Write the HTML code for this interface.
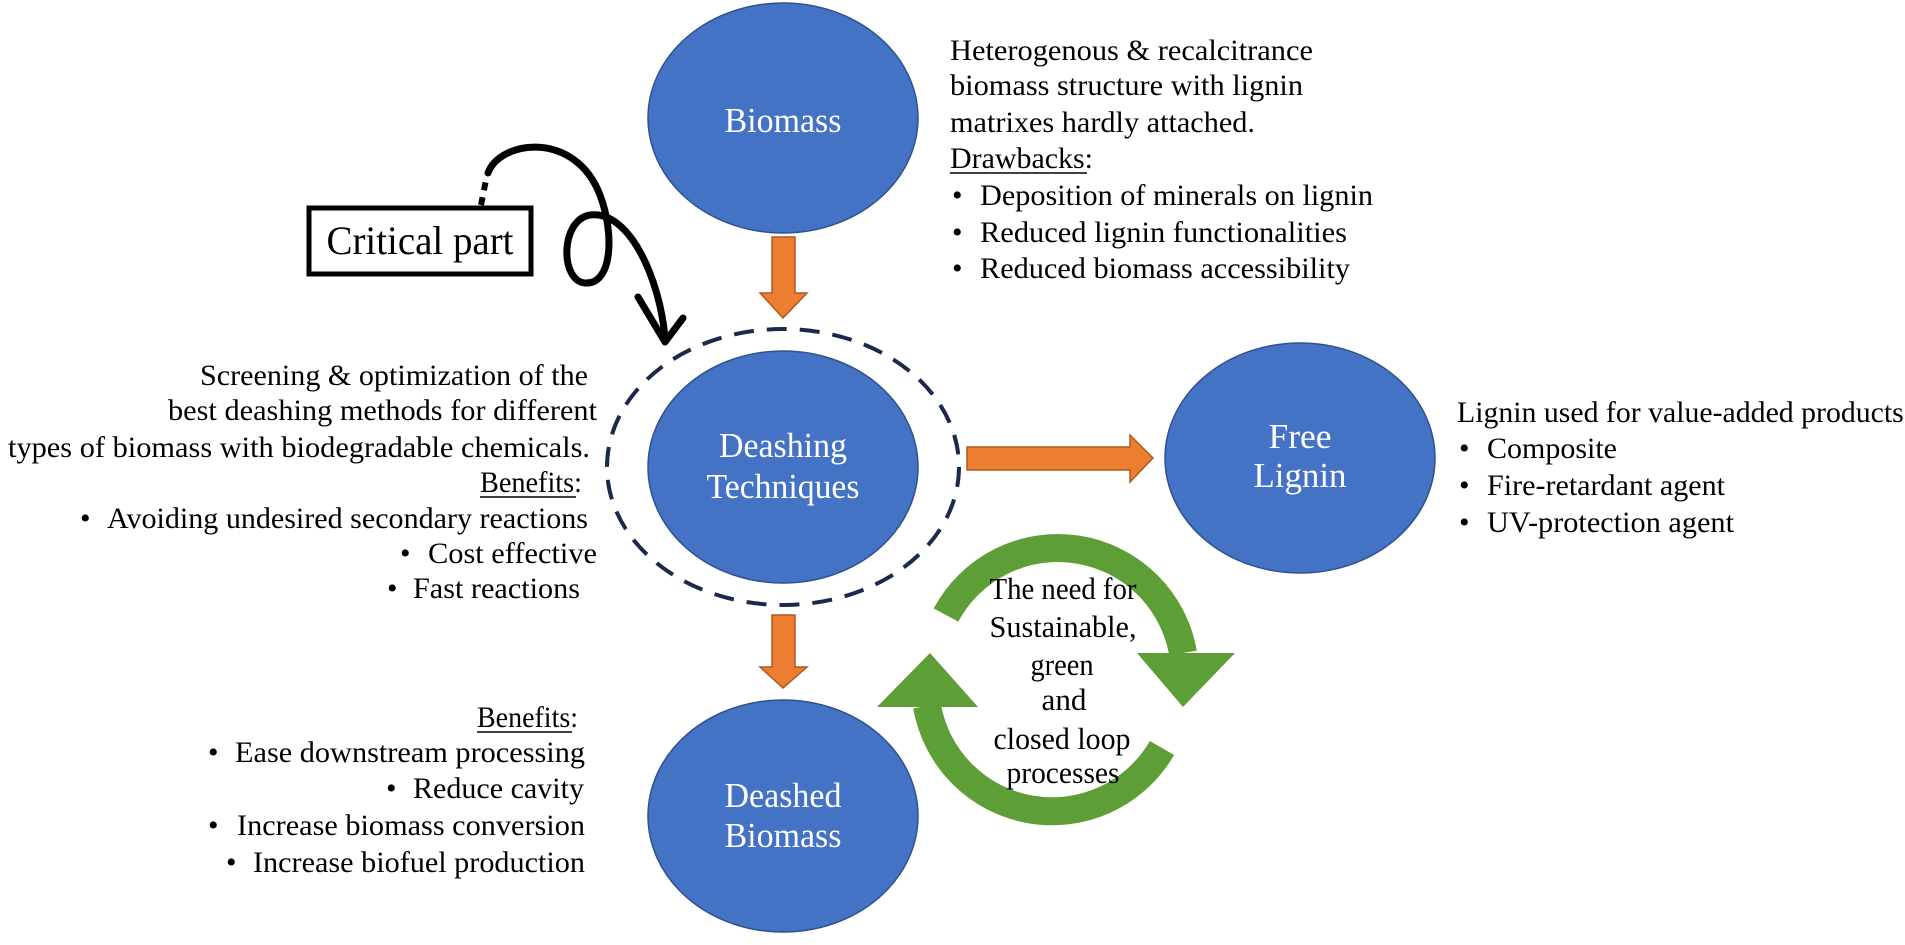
<!DOCTYPE html>
<html><head><meta charset="utf-8"><style>
html,body{margin:0;padding:0;background:#fff;}
svg{display:block;}
text{font-family:"Liberation Serif",serif;}
</style></head><body>
<svg width="1905" height="945" viewBox="0 0 1905 945" xmlns="http://www.w3.org/2000/svg">
<ellipse cx="783" cy="118" rx="135" ry="115" fill="#4472C4" stroke="#2F528F" stroke-width="1.5"/>
<ellipse cx="783" cy="467" rx="176" ry="138" fill="none" stroke="#1B2A4A" stroke-width="4" stroke-dasharray="20 13"/>
<ellipse cx="783" cy="467" rx="135" ry="116" fill="#4472C4" stroke="#2F528F" stroke-width="1.5"/>
<ellipse cx="1300" cy="458" rx="135" ry="115" fill="#4472C4" stroke="#2F528F" stroke-width="1.5"/>
<ellipse cx="783" cy="816" rx="135" ry="116" fill="#4472C4" stroke="#2F528F" stroke-width="1.5"/>

<g fill="#fff" font-size="35" text-anchor="middle">
<text x="783" y="132" textLength="117" lengthAdjust="spacingAndGlyphs">Biomass</text>
<text x="783" y="457" textLength="128" lengthAdjust="spacingAndGlyphs">Deashing</text>
<text x="783" y="498" textLength="153" lengthAdjust="spacingAndGlyphs">Techniques</text>
<text x="1300" y="448" textLength="63" lengthAdjust="spacingAndGlyphs">Free</text>
<text x="1300" y="487" textLength="93" lengthAdjust="spacingAndGlyphs">Lignin</text>
<text x="783" y="807" textLength="117" lengthAdjust="spacingAndGlyphs">Deashed</text>
<text x="783" y="847" textLength="117" lengthAdjust="spacingAndGlyphs">Biomass</text>
</g>

<g fill="#ED7D31" stroke="#AE5A21" stroke-width="1.5">
<polygon points="772,237 795,237 795,293 807,293 783,318 760,293 772,293"/>
<polygon points="772,615 795,615 795,667 807,667 783,688 760,667 772,667"/>
<polygon points="967,447 1130,447 1130,435 1153,458 1130,482 1130,470 967,470"/>
</g>

<rect x="309" y="208" width="222" height="66" fill="#fff" stroke="#000" stroke-width="5"/>
<text x="420" y="254" font-size="40" text-anchor="middle" textLength="187" lengthAdjust="spacingAndGlyphs">Critical part</text>
<path d="M481,205 L486,180" stroke="#000" stroke-width="6" stroke-dasharray="8 7" fill="none"/>
<path d="M488,173 C500,140 575,130 600,195 C615,235 612,285 585,283 C560,281 560,220 590,215 C630,210 660,280 665,338" stroke="#000" stroke-width="7" fill="none" stroke-linecap="round"/>
<path d="M638,297 L665,342 L683,318" stroke="#000" stroke-width="7" fill="none" stroke-linecap="round" stroke-linejoin="round"/>

<g stroke="#5E9E36" stroke-width="28" fill="none">
<path d="M946,615 A127 127 0 0 1 1183,653"/>
<path d="M1162,748 A127 127 0 0 1 927,706"/>
</g>
<g fill="#5E9E36">
<polygon points="1137,653 1235,653 1183,707"/>
<polygon points="877,707 978,707 930,653"/>
</g>
<g font-size="31" text-anchor="middle">
<text x="1063" y="599" textLength="147" lengthAdjust="spacingAndGlyphs">The need for</text>
<text x="1063" y="637" textLength="147" lengthAdjust="spacingAndGlyphs">Sustainable,</text>
<text x="1062" y="675" textLength="63" lengthAdjust="spacingAndGlyphs">green</text>
<text x="1064" y="710" textLength="45" lengthAdjust="spacingAndGlyphs">and</text>
<text x="1062" y="749" textLength="137" lengthAdjust="spacingAndGlyphs">closed loop</text>
<text x="1063" y="783" textLength="113" lengthAdjust="spacingAndGlyphs">processes</text>
</g>

<g font-size="30">
<text x="950" y="60" textLength="363" lengthAdjust="spacingAndGlyphs">Heterogenous &amp; recalcitrance</text>
<text x="950" y="95" textLength="353" lengthAdjust="spacingAndGlyphs">biomass structure with lignin</text>
<text x="950" y="132" textLength="305" lengthAdjust="spacingAndGlyphs">matrixes hardly attached.</text>
<text x="950" y="168" textLength="143" lengthAdjust="spacingAndGlyphs">Drawbacks:</text>
<line x1="950" y1="173" x2="1087" y2="173" stroke="#000" stroke-width="1.5"/>
<text x="952" y="205">•</text><text x="980" y="205" textLength="393" lengthAdjust="spacingAndGlyphs">Deposition of minerals on lignin</text>
<text x="952" y="242">•</text><text x="980" y="242" textLength="367" lengthAdjust="spacingAndGlyphs">Reduced lignin functionalities</text>
<text x="952" y="278">•</text><text x="980" y="278" textLength="370" lengthAdjust="spacingAndGlyphs">Reduced biomass accessibility</text>
</g>

<g font-size="30">
<text x="200" y="385" textLength="388" lengthAdjust="spacingAndGlyphs">Screening &amp; optimization of the</text>
<text x="168" y="420" textLength="429" lengthAdjust="spacingAndGlyphs">best deashing methods for different</text>
<text x="8" y="457" textLength="582" lengthAdjust="spacingAndGlyphs">types of biomass with biodegradable chemicals.</text>
<text x="480" y="492" textLength="102" lengthAdjust="spacingAndGlyphs">Benefits:</text>
<line x1="480" y1="497" x2="576" y2="497" stroke="#000" stroke-width="1.5"/>
<text x="80" y="528">•</text><text x="107" y="528" textLength="481" lengthAdjust="spacingAndGlyphs">Avoiding undesired secondary reactions</text>
<text x="400" y="563">•</text><text x="428" y="563" textLength="169" lengthAdjust="spacingAndGlyphs">Cost effective</text>
<text x="387" y="598">•</text><text x="413" y="598" textLength="167" lengthAdjust="spacingAndGlyphs">Fast reactions</text>
</g>

<g font-size="30">
<text x="477" y="727" textLength="101" lengthAdjust="spacingAndGlyphs">Benefits:</text>
<line x1="477" y1="732" x2="572" y2="732" stroke="#000" stroke-width="1.5"/>
<text x="208" y="762">•</text><text x="235" y="762" textLength="350" lengthAdjust="spacingAndGlyphs">Ease downstream processing</text>
<text x="386" y="798">•</text><text x="413" y="798" textLength="171" lengthAdjust="spacingAndGlyphs">Reduce cavity</text>
<text x="208" y="835">•</text><text x="237" y="835" textLength="348" lengthAdjust="spacingAndGlyphs">Increase biomass conversion</text>
<text x="226" y="872">•</text><text x="253" y="872" textLength="332" lengthAdjust="spacingAndGlyphs">Increase biofuel production</text>
</g>

<g font-size="30">
<text x="1457" y="422" textLength="455" lengthAdjust="spacingAndGlyphs">Lignin used for value-added products:</text>
<text x="1459" y="458">•</text><text x="1487" y="458" textLength="130" lengthAdjust="spacingAndGlyphs">Composite</text>
<text x="1459" y="495">•</text><text x="1487" y="495" textLength="238" lengthAdjust="spacingAndGlyphs">Fire-retardant agent</text>
<text x="1459" y="532">•</text><text x="1487" y="532" textLength="247" lengthAdjust="spacingAndGlyphs">UV-protection agent</text>
</g>
</svg>
</body></html>
